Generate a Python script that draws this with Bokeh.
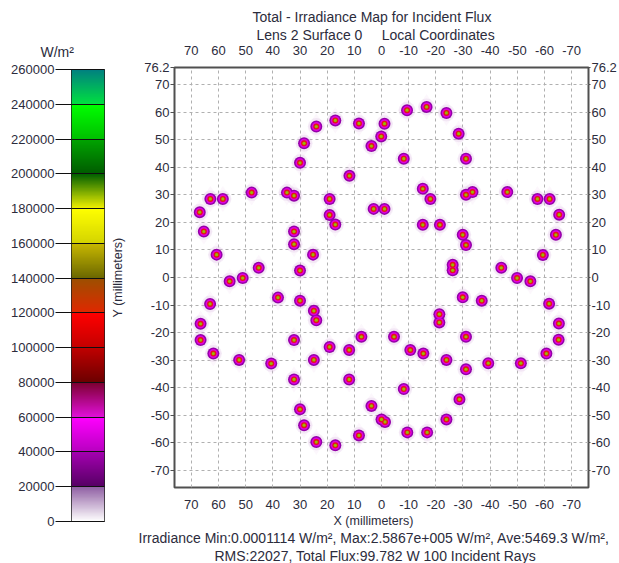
import numpy as np
from bokeh.plotting import figure
from bokeh.layouts import row
from bokeh.models import Range1d, LinearAxis, FixedTicker, CustomJSTickFormatter, Title
from bokeh.embed import file_html
from bokeh.resources import INLINE

# ---------------- data ----------------
spot_x = [24.0, 17.0, 8.3, -1.1, 0.1, 28.5, 3.7, 30.0, 11.8, 47.8, 34.8, 32.2, 63.0, 58.4, 19.1,
          2.9, -1.1, 66.9, 19.1, 17.0, 65.4, 32.2, 32.2, 60.7, 25.2, 45.2, 30.0, 55.9, 51.1,
          63.1, 38.1, 30.0, 24.9, 24.0, 66.6, 66.6, 32.2, 7.4, 19.1, 11.9, 61.9, 52.4, 40.6,
          24.9, 32.2, 11.9, 30.0, 28.5, 24.0, 17.0, 8.3, 3.7,
          -26.2, -26.2, -44.1, -49.9, -54.8, -29.9, -36.9, -61.7, -21.3, -21.3, -65.3, -4.6,
          -31.1, -65.2, -10.6, -15.4, -60.7, -23.9, -31.1, -39.3, -51.3, -8.2, -28.7, 0.0,
          -1.3, -23.9, -9.5, -16.8,
          -9.4, -16.6, -23.9, -28.4, -8.2, -31.1, -15.2, -18.0, -31.1, -33.5, -46.3, -57.4,
          -61.9, -65.4, -64.2, -15.2, -21.5, -29.9, -31.1, -59.4]
spot_y = [54.8, 57.0, 55.9, 55.8, 51.2, 48.7, 47.7, 41.6, 36.9, 30.8, 30.8, 29.7, 28.5, 28.5, 28.5,
          24.9, 24.9, 23.7, 22.7, 19.2, 16.7, 16.7, 12.1, 8.3, 8.3, 3.5, 2.5, -1.4, -0.2,
          -9.6, -7.3, -8.4, -12.1, -15.5, -16.8, -22.7, -22.7, -21.5, -25.2, -26.3, -27.6, -29.9, -31.2,
          -29.9, -37.0, -37.0, -47.8, -53.6, -59.7, -60.9, -57.3, -46.6,
          4.6, 2.6, 3.5, -0.2, -1.4, -7.2, -8.4, -9.5, -13.3, -16.3, -16.7, -21.5,
          -21.5, -22.6, -26.3, -27.6, -27.6, -29.9, -33.3, -31.1, -31.1, -40.5, -44.2, -51.5,
          -52.4, -51.5, -56.2, -56.2,
          60.7, 61.9, 59.7, 52.2, 43.1, 43.1, 32.2, 28.5, 30.0, 31.0, 31.0, 28.5,
          28.5, 22.8, 15.5, 19.1, 19.1, 15.5, 11.8, 8.2]

x_ticks = [70, 60, 50, 40, 30, 20, 10, 0, -10, -20, -30, -40, -50, -60, -70]
y_ticks = [76.2, 70, 60, 50, 40, 30, 20, 10, 0, -10, -20, -30, -40, -50, -60, -70]
cbar_ticks = [0, 20000, 40000, 60000, 80000, 100000, 120000, 140000, 160000,
              180000, 200000, 220000, 240000, 260000]
# colour of each 20000-wide band of the scale: (bottom colour, top colour)
cbar_band_bottom = ["#ffffff", "#560064", "#b800c0", "#e010d8", "#6c0000", "#c40000", "#e02800",
                    "#6c6800", "#d4d400", "#f0f000", "#005c00", "#00c000", "#00e040"]
cbar_band_top = ["#9060a4", "#a400b0", "#ff00ff", "#7c0030", "#c00000", "#ff0000", "#9c5000",
                 "#c8b800", "#ffff00", "#006000", "#00a400", "#00ff00", "#008080"]

title_line1 = "Total - Irradiance Map for Incident Flux"
title_line2 = "Lens 2 Surface 0\u00a0\u00a0\u00a0\u00a0 Local Coordinates"
x_label = "X (millimeters)"
y_label = "Y (millimeters)"
stats_line1 = "Irradiance Min:0.0001114 W/m\u00b2, Max:2.5867e+005 W/m\u00b2, Ave:5469.3 W/m\u00b2,"
stats_line2 = "RMS:22027, Total Flux:99.782 W 100 Incident Rays"
cbar_title = "W/m\u00b2"

FONT = "Liberation Sans"
TXT = "#2c2c3c"
FS_TICK = "13px"
FS_TITLE = "14px"
FS_LABEL = "12.5px"
fmt = CustomJSTickFormatter(code="return String(tick)")

# ---------------- colour bar figure ----------------
def hex2rgb(h):
    return [int(h[i:i + 2], 16) for i in (1, 3, 5)]

rows_per_band = 60
band_rows = []
for cbot, ctop in zip(cbar_band_bottom, cbar_band_top):
    a = np.array(hex2rgb(cbot), float)
    b = np.array(hex2rgb(ctop), float)
    t = np.linspace(0, 1, rows_per_band)[:, None]
    band_rows.append(a * (1 - t) + b * t)
rgb = np.vstack(band_rows).round().astype(np.uint8)
n = rgb.shape[0]
img = np.empty((n, 1), dtype=np.uint32)
view = img.view(dtype=np.uint8).reshape((n, 1, 4))
view[:, 0, 0] = rgb[:, 0]
view[:, 0, 1] = rgb[:, 1]
view[:, 0, 2] = rgb[:, 2]
view[:, 0, 3] = 255

cb = figure(width=108, height=563, x_range=Range1d(0, 1), y_range=Range1d(0, cbar_ticks[-1]),
            toolbar_location=None, output_backend="svg", x_axis_type=None,
            min_border_left=71, min_border_right=4, min_border_top=69, min_border_bottom=42,
            title=None, frame_align=False)
cb.image_rgba(image=[img], x=0, y=0, dw=1, dh=cbar_ticks[-1])
cb.xgrid.visible = False
cb.ygrid.visible = False
cb.outline_line_color = "#202020"
cb.outline_line_width = 1
ya = cb.yaxis[0]
ya.ticker = FixedTicker(ticks=cbar_ticks)
ya.formatter = fmt
ya.major_tick_out = 16
ya.major_tick_in = 33
ya.major_tick_line_color = "#101010"
ya.minor_tick_line_color = None
ya.axis_line_color = None
ya.major_label_standoff = 1
ya.major_label_text_font = FONT
ya.major_label_text_font_size = FS_TICK
ya.major_label_text_color = TXT
cb.add_layout(Title(text=cbar_title, align="left", text_font=FONT, text_font_size=FS_TITLE,
                    text_color=TXT, text_font_style="normal", standoff=20, offset=-31), "above")

# ---------------- main figure ----------------
p = figure(width=511, height=563, x_range=Range1d(76.2, -76.2), y_range=Range1d(-76.2, 76.2),
           toolbar_location=None, output_backend="svg", title=None, frame_align=False,
           min_border_left=59, min_border_right=29, min_border_top=67, min_border_bottom=75)
p.outline_line_color = "#505050"
p.outline_line_width = 2
p.background_fill_color = "white"

for g in (p.xgrid[0], p.ygrid[0]):
    g.grid_line_color = "#b0b0b0"
    g.grid_line_dash = "3 3"
    g.grid_line_width = 1

def style_axis(ax, tick_out, standoff):
    ax.formatter = fmt
    ax.major_tick_out = tick_out
    ax.major_tick_in = 0
    ax.minor_tick_line_color = None
    ax.axis_line_color = None
    ax.major_tick_line_color = "#505050"
    ax.major_label_standoff = standoff
    ax.major_label_text_font = FONT
    ax.major_label_text_font_size = FS_TICK
    ax.major_label_text_color = TXT

xb = p.xaxis[0]
xb.ticker = FixedTicker(ticks=x_ticks)
style_axis(xb, 0, 12)

yl = p.yaxis[0]
yl.ticker = FixedTicker(ticks=y_ticks)
style_axis(yl, 4, 1)
yl.axis_label = y_label
yl.axis_label_text_font = FONT
yl.axis_label_text_font_size = FS_LABEL
yl.axis_label_text_font_style = "normal"
yl.axis_label_text_color = TXT
yl.axis_label_standoff = 16

yr = LinearAxis(ticker=FixedTicker(ticks=y_ticks))
style_axis(yr, 2, 1)
p.add_layout(yr, "right")

xt = LinearAxis(ticker=FixedTicker(ticks=x_ticks))
style_axis(xt, 0, 13)
p.add_layout(xt, "above")

# titles placed with their left edge at the reference's position (offset from frame left)
def add_title(text, loc, size, left_offset):
    p.add_layout(Title(text=text, align="left", text_font=FONT, text_font_size=size,
                       text_color=TXT, text_font_style="normal", standoff=0,
                       offset=left_offset), loc)

add_title(title_line2, "above", FS_TITLE, 82)
add_title(title_line1, "above", FS_TITLE, 78)
add_title(x_label, "below", FS_LABEL, 159)
add_title(stats_line1, "below", FS_TITLE, -36)
add_title(stats_line2, "below", FS_TITLE, 40)

# spots: faint halo, purple ring, magenta, red, yellow-green core
p.scatter(spot_x, spot_y, marker="diamond", size=26, color="#e8c8ee", alpha=0.15, line_color=None)
p.scatter(spot_x, spot_y, size=17, color="#d8b0e0", alpha=0.22, line_color=None)
p.scatter(spot_x, spot_y, size=12, color="#9400a8", line_color=None)
p.scatter(spot_x, spot_y, size=9, color="#e000e0", line_color=None)
p.scatter(spot_x, spot_y, size=6, color="#e01818", line_color=None)
p.scatter(spot_x, spot_y, size=3.2, color="#98bc00", line_color=None)

layout = row(cb, p)
open("out.html", "w").write(file_html(layout, INLINE))
